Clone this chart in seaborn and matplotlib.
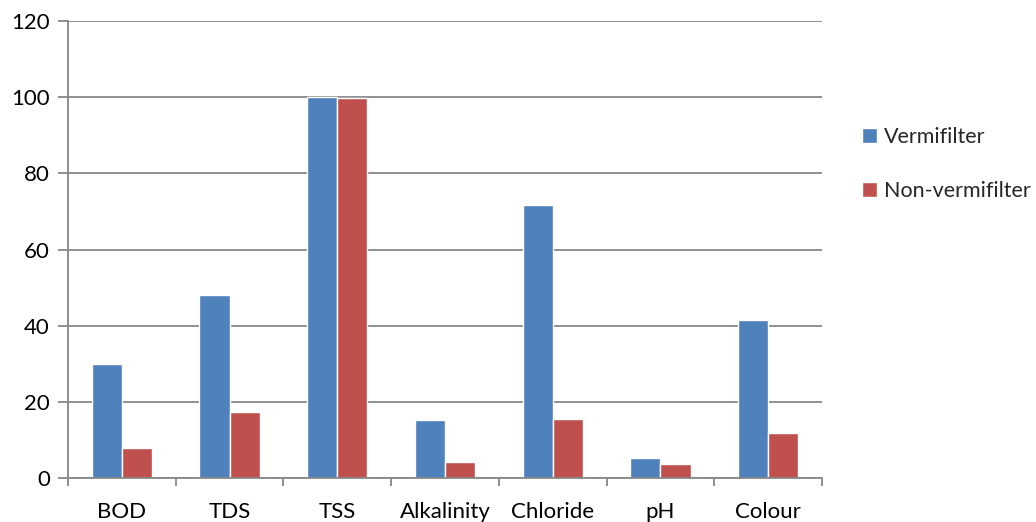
import matplotlib
matplotlib.use("Agg")
import matplotlib.pyplot as plt
from matplotlib.patches import Patch
import pandas as pd
import seaborn as sns

# Percentage removal per parameter
parameters = ["BOD", "TDS", "TSS", "Alkalinity", "Chloride", "pH", "Colour"]
vermifilter = [30.0, 48.0, 100.0, 15.2, 71.6, 5.2, 41.5]
non_vermifilter = [7.9, 17.2, 99.8, 4.2, 15.4, 3.6, 11.9]
series_names = ["Vermifilter", "Non-vermifilter"]
y_ticks = [0, 20, 40, 60, 80, 100, 120]

df = pd.DataFrame({
    "Parameter": parameters * 2,
    "Value": vermifilter + non_vermifilter,
    "Series": [series_names[0]] * len(parameters) + [series_names[1]] * len(parameters),
})

sns.set_theme(style="white")
plt.rcParams["font.family"] = ["Lato", "DejaVu Sans"]

colors = ["#4F81BD", "#C0504D"]
grid_color = "#878787"
font_size = 16

fig = plt.figure(figsize=(10.36, 5.22), dpi=100)
ax = fig.add_axes([68 / 1036, 1 - 478 / 522, (822 - 68) / 1036, (478 - 21) / 522])

sns.barplot(data=df, x="Parameter", y="Value", hue="Series", hue_order=series_names,
            palette=colors, width=0.56, edgecolor="white", linewidth=1.0,
            saturation=1, legend=False, ax=ax)

ax.set_ylim(0, 120)
ax.set_yticks(y_ticks)
ax.set_xlim(-0.5, len(parameters) - 0.5)
ax.set_xlabel("")
ax.set_ylabel("")

ax.yaxis.grid(True, color=grid_color, linewidth=1.3)
ax.set_axisbelow(True)
for side in ["top", "right"]:
    ax.spines[side].set_visible(False)
for side in ["left", "bottom"]:
    ax.spines[side].set_color(grid_color)
    ax.spines[side].set_linewidth(1.3)

# Category boundary ticks on the x axis, labels centred between them
ax.set_xticks([i - 0.5 for i in range(len(parameters) + 1)], minor=False)
ax.set_xticklabels([])
ax.set_xticks(range(len(parameters)), minor=True)
ax.set_xticklabels(parameters, minor=True)
ax.tick_params(axis="x", which="major", length=6, width=1.3, color=grid_color, direction="out")
ax.tick_params(axis="x", which="minor", length=0, labelsize=font_size, pad=17, labelcolor="black")
ax.tick_params(axis="y", length=7, width=1.3, color=grid_color, direction="out",
               labelsize=font_size, pad=6, labelcolor="black")
ax.tick_params(bottom=True, left=True)

handles = [Patch(facecolor=c, edgecolor="white") for c in colors]
fig.legend(handles, series_names, loc="upper left", bbox_to_anchor=(862 / 1036, 1 - 127 / 522),
           frameon=False, fontsize=15.5, handlelength=0.7, handleheight=0.7,
           handletextpad=0.3, labelspacing=1.6, borderaxespad=0, borderpad=0)

fig.savefig("out.png", dpi=100, facecolor="white")
